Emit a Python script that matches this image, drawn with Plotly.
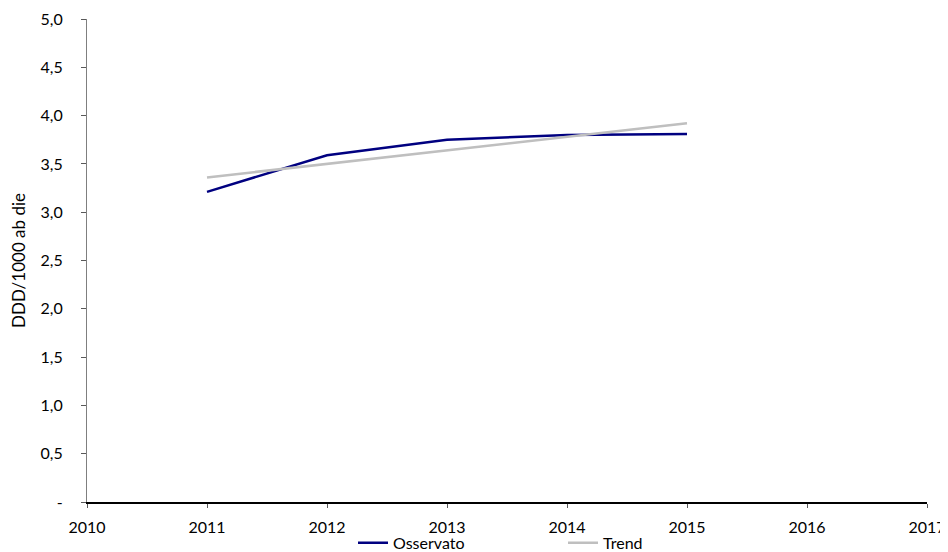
import plotly.graph_objects as go

# Dati
anni = [2011, 2012, 2013, 2014, 2015]
osservato = [3.21, 3.59, 3.75, 3.80, 3.81]
trend = [3.36, 3.50, 3.64, 3.78, 3.92]

x_ticks = [2010, 2011, 2012, 2013, 2014, 2015, 2016, 2017]
y_ticks = [0, 0.5, 1.0, 1.5, 2.0, 2.5, 3.0, 3.5, 4.0, 4.5, 5.0]
y_labels = ["-", "0,5", "1,0", "1,5", "2,0", "2,5", "3,0", "3,5", "4,0", "4,5", "5,0"]

FONT = "Lato"

fig = go.Figure()
fig.add_trace(go.Scatter(x=anni, y=osservato, mode="lines", name="Osservato",
                         line=dict(color="#000080", width=2.5)))
fig.add_trace(go.Scatter(x=anni, y=trend, mode="lines", name="Trend",
                         line=dict(color="#BFBFBF", width=2.5)))

# la pagina ha ~7px di margine: figura un po' più piccola della finestra
fig.update_layout(
    width=940, height=544,
    margin=dict(l=79, r=21, t=11, b=50),
    paper_bgcolor="white", plot_bgcolor="white",
    font=dict(family=FONT, size=16, color="#000000"),
    showlegend=True,
    legend=dict(orientation="h", x=(345 - 79) / 840, xanchor="left",
                yref="container", y=0.017, yanchor="middle",
                entrywidth=165, entrywidthmode="pixels", font=dict(family=FONT, size=16),
                bgcolor="rgba(0,0,0,0)"),
)

fig.update_xaxes(range=[2010, 2017], tickvals=x_ticks, ticktext=[str(v) for v in x_ticks],
                 automargin=False, ticklabeloverflow="allow",
                 showgrid=False, zeroline=False, showline=True, linecolor="#000000", linewidth=1.5,
                 ticks="outside", ticklen=4, tickcolor="#595959", ticklabelstandoff=6,
                 tickfont=dict(family=FONT, size=16))
fig.update_yaxes(range=[0, 5], tickvals=y_ticks, ticktext=y_labels,
                 automargin=False, ticklabeloverflow="allow",
                 showgrid=False, zeroline=False, showline=True, linecolor="#7f7f7f", linewidth=1.2,
                 ticks="outside", ticklen=5, tickcolor="#595959", ticklabelstandoff=15,
                 tickfont=dict(family=FONT, size=16),
                 title=dict(text="DDD/1000 ab die", standoff=20, font=dict(family=FONT, size=17)))

fig.write_html("out.html")
